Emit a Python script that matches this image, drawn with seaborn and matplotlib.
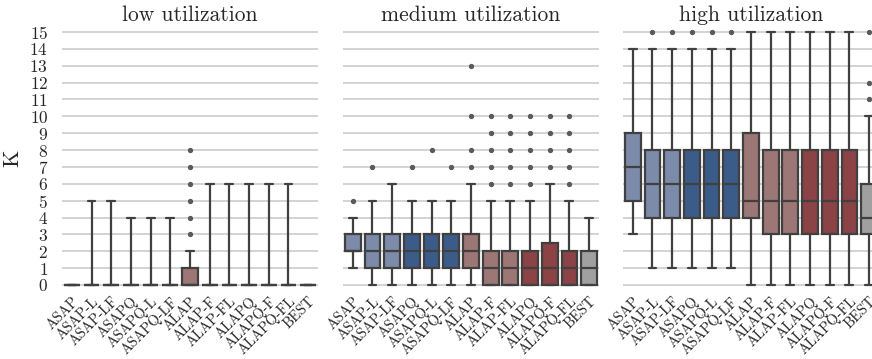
import numpy as np
import pandas as pd
import matplotlib.pyplot as plt
import seaborn as sns

methods = ["ASAP", "ASAP-L", "ASAP-LF", "ASAPQ", "ASAPQ-L", "ASAPQ-LF", "ALAP",
           "ALAP-F", "ALAP-FL", "ALAPQ", "ALAPQ-F", "ALAPQ-FL", "BEST"]
panels = ["low utilization", "medium utilization", "high utilization"]

# box summaries: q1, median, q3, whisker low/high, outliers
low_q1 = [0, 0, 0, 0, 0, 0, 0, 0, 0, 0, 0, 0, 0]
low_med = [0, 0, 0, 0, 0, 0, 0, 0, 0, 0, 0, 0, 0]
low_q3 = [0, 0, 0, 0, 0, 0, 1, 0, 0, 0, 0, 0, 0]
low_lo = [0, 0, 0, 0, 0, 0, 0, 0, 0, 0, 0, 0, 0]
low_hi = [0, 5, 5, 4, 4, 4, 2, 6, 6, 6, 6, 6, 0]
low_out = [[], [], [], [], [], [], [3, 4, 5, 6, 7, 8], [], [], [], [], [], []]

med_q1 = [2, 1, 1, 1, 1, 1, 1, 0, 0, 0, 0, 0, 0]
med_med = [2, 2, 2, 2, 2, 2, 2, 1, 1, 1, 1, 1, 1]
med_q3 = [3, 3, 3, 3, 3, 3, 3, 2, 2, 2, 2.5, 2, 2]
med_lo = [1, 0, 0, 0, 0, 0, 0, 0, 0, 0, 0, 0, 0]
med_hi = [4, 5, 6, 5, 5, 5, 6, 5, 5, 5, 6, 5, 4]
med_out = [[5], [7], [], [7], [8], [7], [7, 8, 10, 13], [6, 7, 8, 9, 10],
           [6, 7, 8, 9, 10], [6, 7, 8, 9, 10], [7, 8, 9, 10], [6, 7, 8, 9, 10], []]

high_q1 = [5, 4, 4, 4, 4, 4, 4, 3, 3, 3, 3, 3, 3]
high_med = [7, 6, 6, 6, 6, 6, 5, 5, 5, 5, 5, 5, 4]
high_q3 = [9, 8, 8, 8, 8, 8, 9, 8, 8, 8, 8, 8, 6]
high_lo = [3, 1, 1, 1, 1, 1, 0, 0, 0, 0, 0, 0, 0]
high_hi = [14, 14, 14, 14, 14, 14, 15, 15, 15, 15, 15, 15, 10]
high_out = [[], [15], [15], [15], [15], [15], [], [], [], [], [], [], [11, 12, 15]]

colors = ["#7c8ba9", "#7c8ba9", "#7c8ba9", "#3b5c88", "#3b5c88", "#3b5c88",
          "#9d7776", "#9d7776", "#9d7776", "#8b4346", "#8b4346", "#8b4346", "#a0a0a0"]
palette = dict(zip(methods, colors))

summaries = [
    (low_q1, low_med, low_q3, low_lo, low_hi, low_out),
    (med_q1, med_med, med_q3, med_lo, med_hi, med_out),
    (high_q1, high_med, high_q3, high_lo, high_hi, high_out),
]


def make_table(q1, med, q3, lo, hi, out):
    """build a long table whose box stats give back the summaries"""
    rows = []
    for i, m in enumerate(methods):
        vals = [lo[i], hi[i]] + list(out[i]) + [q1[i]] * 100 + [med[i]] * 100 + [q3[i]] * 100
        for v in vals:
            rows.append((m, v))
    return pd.DataFrame(rows, columns=["method", "K"])


sns.set_style("whitegrid")
plt.rcParams['font.family'] = ['cmr10', 'DejaVu Serif']
plt.rcParams['axes.formatter.use_mathtext'] = True
plt.rcParams['mathtext.fontset'] = 'cm'

fig = plt.figure(figsize=(8.72, 3.59), dpi=100)
lefts = [0.0711, 0.3933, 0.7144]
axes = [fig.add_axes([l, 0.1875, 0.2936, 0.742]) for l in lefts]

for k, ax in enumerate(axes):
    q1, med, q3, lo, hi, out = summaries[k]
    df = make_table(q1, med, q3, lo, hi, out)
    # boxes with zero IQR get whiskers to the data range
    flat = [m for i, m in enumerate(methods) if q1[i] == q3[i]]
    for sub, whis in [(df[~df.method.isin(flat)], 1.5), (df[df.method.isin(flat)], (0, 100))]:
        if len(sub) == 0:
            continue
        sns.boxplot(data=sub, x="method", y="K", hue="method", order=methods,
                    hue_order=methods, palette=palette, saturation=1, width=0.8,
                    whis=whis, linecolor="#404040", linewidth=1.6, legend=False,
                    flierprops=dict(marker='o', markersize=2.8, markerfacecolor='#5a5a5a',
                                    markeredgecolor='#5a5a5a'), ax=ax)
    ax.set_xlim(-0.5, 12.5)
    ax.set_ylim(-0.4, 15.4)
    ax.set_yticks(range(16))
    ax.grid(axis='y', color='#cccccc', linewidth=1.2)
    ax.grid(axis='x', visible=False)
    ax.set_axisbelow(True)
    for s in ax.spines.values():
        s.set_visible(False)
    ax.tick_params(axis='x', length=0, pad=2)
    ax.set_xticks(range(len(methods)))
    ax.set_xticklabels(methods, rotation=45, ha='right', rotation_mode='anchor', fontsize=10.4)
    ax.set_xlabel("")
    ax.set_title(panels[k], fontsize=15.5, pad=3)
    if k == 0:
        ax.set_ylabel("K", fontsize=16, labelpad=5)
        ax.tick_params(axis='y', length=0, labelsize=12.5, pad=10)
    else:
        ax.set_ylabel("")
        ax.tick_params(axis='y', length=0)
        ax.set_yticklabels([])

fig.savefig("out.png", dpi=100)
